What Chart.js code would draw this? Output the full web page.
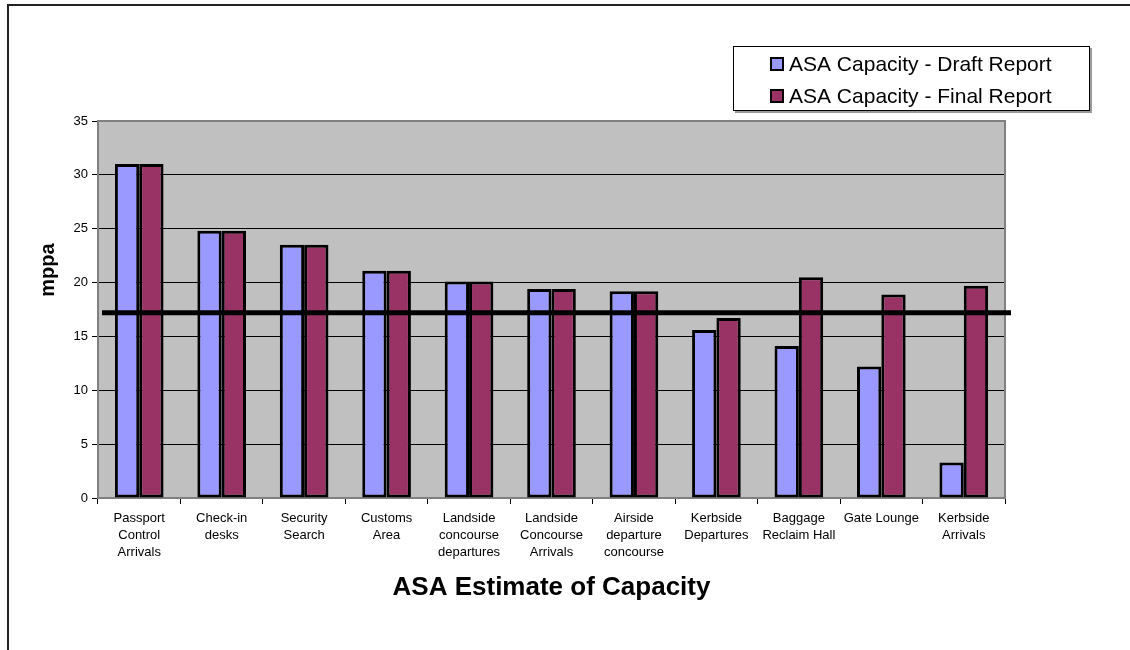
<!DOCTYPE html>
<html>
<head>
<meta charset="utf-8">
<script src="https://cdn.jsdelivr.net/npm/chart.js@4/dist/chart.umd.min.js"></script>
<style>
body{margin:0;background:#fff;}
#frame{position:absolute;left:7px;top:4px;width:1200px;height:700px;border-left:2px solid #222;border-top:2px solid #222;}
canvas{position:absolute;left:0;top:0;}
</style>
</head>
<body>
<div id="frame"></div>
<canvas id="capacityChart" width="1130" height="650"></canvas>
<script>
const categories = [
["Passport","Control","Arrivals"],
["Check-in","desks"],
["Security","Search"],
["Customs","Area"],
["Landside","concourse","departures"],
["Landside","Concourse","Arrivals"],
["Airside","departure","concourse"],
["Kerbside","Departures"],
["Baggage","Reclaim Hall"],
["Gate Lounge"],
["Kerbside","Arrivals"]
];

const draftReport = [31.0, 24.8, 23.5, 21.1, 20.1, 19.4, 19.2, 15.6, 14.1, 12.2, 3.3];
const finalReport = [31.0, 24.8, 23.5, 21.1, 20.1, 19.4, 19.2, 16.7, 20.5, 18.9, 19.7];

const seriesNames = ["ASA Capacity - Draft Report","ASA Capacity - Final Report"];
const yTicks = [0, 5, 10, 15, 20, 25, 30, 35];
const refLine = 17.2;

const xTitle = "ASA Estimate of Capacity";
const yTitle = "mppa";

// plot background, border, reference line, titles and legend box
const extras = {
id:"extras",
beforeDraw(chart){
const a = chart.chartArea, ctx = chart.ctx;
ctx.save();
ctx.fillStyle = "#C0C0C0";
ctx.fillRect(a.left, a.top, a.right - a.left, a.bottom - a.top);
ctx.restore();
},
afterDatasetsDraw(chart){
const a = chart.chartArea, ctx = chart.ctx;
ctx.save();
ctx.strokeStyle = "#808080";
ctx.lineWidth = 2;
ctx.beginPath();
ctx.moveTo(a.left, a.top);
ctx.lineTo(a.right, a.top);
ctx.lineTo(a.right, a.bottom);
ctx.stroke();
const y = chart.scales.y.getPixelForValue(refLine);
ctx.strokeStyle = "#000";
ctx.lineWidth = 5;
ctx.beginPath();
ctx.moveTo(a.left + 4, y);
ctx.lineTo(a.right + 6, y);
ctx.stroke();
ctx.restore();
},
afterDraw(chart){
const a = chart.chartArea, ctx = chart.ctx;
ctx.save();
ctx.fillStyle = "#000";
ctx.textAlign = "center";
ctx.textBaseline = "middle";
ctx.font = "bold 26px 'Liberation Sans', Arial, sans-serif";
ctx.fillText(xTitle, (a.left + a.right) / 2, 588);
ctx.translate(48, 270);
ctx.rotate(-Math.PI / 2);
ctx.font = "bold 20px 'Liberation Sans', Arial, sans-serif";
ctx.fillText(yTitle, 0, 0);
ctx.restore();

// legend
ctx.save();
ctx.fillStyle = "#9a9a9a";
ctx.fillRect(735, 48, 357, 65);
ctx.fillStyle = "#fff";
ctx.fillRect(733, 46, 357, 65);
ctx.strokeStyle = "#000";
ctx.lineWidth = 1;
ctx.strokeRect(733.5, 46.5, 356, 64);
ctx.font = "21px 'Liberation Sans', Arial, sans-serif";
ctx.textBaseline = "middle";
chart.data.datasets.forEach((ds, i) => {
const cy = 64 + i * 32;
ctx.fillStyle = ds.backgroundColor;
ctx.fillRect(771, cy - 6, 12, 12);
ctx.strokeStyle = "#000";
ctx.lineWidth = 2;
ctx.strokeRect(771, cy - 6, 12, 12);
ctx.fillStyle = "#000";
ctx.fillText(ds.label, 789, cy + 1);
});
ctx.restore();
}
};

new Chart(
document.getElementById("capacityChart"),
{
type:"bar",
data:{
labels:categories,
datasets:[{
label:seriesNames[0],
data:draftReport,
backgroundColor:"#9999FF",
borderColor:"#000",
borderWidth:3,
borderSkipped:false
},{
label:seriesNames[1],
data:finalReport,
backgroundColor:"#993366",
borderColor:"#000",
borderWidth:3,
borderSkipped:false
}]
},
options:{
responsive:false,
animation:false,
categoryPercentage:0.59,
barPercentage:1.0,
layout:{padding:{left:0, top:121, right:125, bottom:0}},
plugins:{
legend:{display:false},
tooltip:{enabled:false}
},
scales:{
x:{
afterFit(s){ s.height = 152; },
grid:{
offset:true,
drawOnChartArea:false,
drawTicks:true,
tickLength:6,
color:"#000"
},
border:{color:"#808080", width:2},
ticks:{
color:"#000",
padding:6,
maxRotation:0,
autoSkip:false,
font:{family:"'Liberation Sans', Arial, sans-serif", size:13, lineHeight:1.3}
}
},
y:{
min:0,
max:35,
afterFit(s){ s.width = 98; },
afterBuildTicks(s){ s.ticks = yTicks.map(v => ({value:v})); },
grid:{
color:"#000",
lineWidth:1,
drawTicks:true,
tickLength:6
},
border:{color:"#808080", width:2},
ticks:{
color:"#000",
padding:4,
font:{family:"'Liberation Sans', Arial, sans-serif", size:13}
}
}
}
},
plugins:[extras]
});
</script>
</body>
</html>
